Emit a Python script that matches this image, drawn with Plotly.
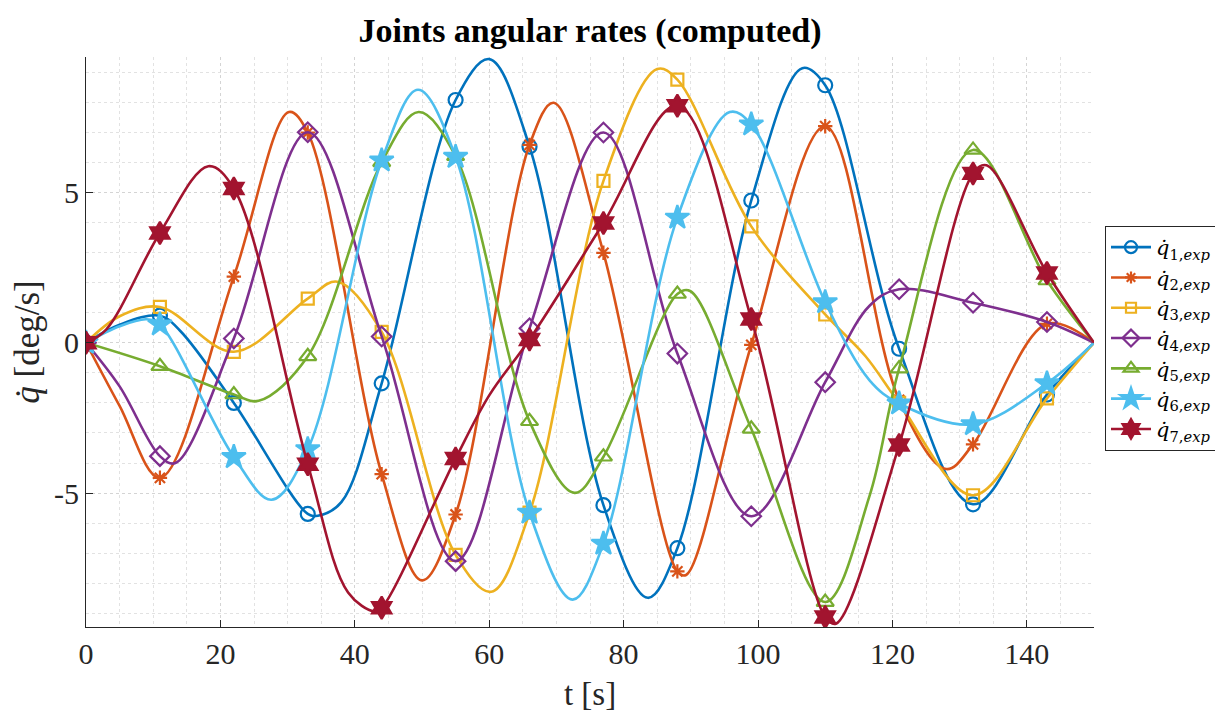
import plotly.graph_objects as go

# ---------------- data ----------------
T_MARK = [0, 11, 22, 33, 44, 55, 66, 77, 88, 99, 110, 121, 132, 143]
T_END = 150
V_END = 0.0

Q1_MARK = [0, 0.9, -2.0, -5.69, -1.35, 8.07, 6.52, -5.4, -6.83, 4.73, 8.56, -0.2, -5.37, -1.72]
Q1_EXTRA_T = [5, 14, 34.5, 38, 60, 83.6, 106.6]
Q1_EXTRA_V = [0.6, 0.4, -5.75, -5.3, 9.43, -8.48, 9.13]

Q2_MARK = [0, -4.49, 2.2, 6.99, -4.37, -5.71, 6.58, 2.99, -7.6, -0.07, 7.2, -1.9, -3.38, 0.63]
Q2_EXTRA_T = [5, 30.2, 50, 69.6, 89.3, 128]
Q2_EXTRA_V = [-2.1, 7.67, -7.9, 7.98, -7.72, -4.2]

Q3_MARK = [0, 1.19, -0.3, 1.47, 0.36, -7.05, -5.65, 5.38, 8.75, 3.87, 0.94, -2.0, -5.07, -1.85]
Q3_EXTRA_T = [5, 37.4, 60.3, 85, 116]
Q3_EXTRA_V = [0.88, 2.03, -8.28, 9.1, -0.45]

Q4_MARK = [0, -3.77, 0.14, 7.0, 0.21, -7.26, 0.48, 6.99, -0.36, -5.77, -1.31, 1.78, 1.33, 0.69]
Q4_EXTRA_T = [5, 13.3, 116.6]
Q4_EXTRA_V = [-1.45, -4.0, 1.23]

Q5_MARK = [0, -0.78, -1.72, -0.45, 6.0, 6.2, -2.61, -3.79, 1.62, -2.86, -8.62, -0.86, 6.41, 2.07]
Q5_EXTRA_T = [25.7, 49.5, 72.7, 89.9, 116.6]
Q5_EXTRA_V = [-1.93, 7.67, -4.99, 1.72, -5.09]

Q6_MARK = [0, 0.61, -3.8, -3.54, 6.06, 6.18, -5.65, -6.68, 4.16, 7.26, 1.35, -2.02, -2.71, -1.35]
Q6_EXTRA_T = [5, 9, 27.6, 49.4, 72.4, 95.8, 116.6]
Q6_EXTRA_V = [0.55, 0.78, -5.22, 8.41, -8.54, 7.67, -1.25]

Q7_MARK = [0, 3.65, 5.13, -4.04, -8.81, -3.85, 0.11, 3.98, 7.88, 0.79, -9.12, -3.4, 5.63, 2.32]
Q7_EXTRA_T = [3, 18.2, 39, 42.9, 60, 111.6, 134]
Q7_EXTRA_V = [0.44, 5.87, -8.3, -8.93, -1.75, -9.34, 5.9]

NAMES = ["1", "2", "3", "4", "5", "6", "7"]
X_TICKS = [0, 20, 40, 60, 80, 100, 120, 140]
Y_TICKS = [-5, 0, 5]

# ---------------- style ----------------
COLORS = ["#0072BD", "#D95319", "#EDB120", "#7E2F8E", "#77AC30", "#4DBEEE", "#A2142F"]
SYMBOLS = ["circle-open", "asterisk-open", "square-open", "diamond-open",
           "triangle-up-open", "star", "hexagram"]
SIZES = [14, 12, 12, 15, 15, 18, 17]

SERIES = [
    (Q1_MARK, Q1_EXTRA_T, Q1_EXTRA_V),
    (Q2_MARK, Q2_EXTRA_T, Q2_EXTRA_V),
    (Q3_MARK, Q3_EXTRA_T, Q3_EXTRA_V),
    (Q4_MARK, Q4_EXTRA_T, Q4_EXTRA_V),
    (Q5_MARK, Q5_EXTRA_T, Q5_EXTRA_V),
    (Q6_MARK, Q6_EXTRA_T, Q6_EXTRA_V),
    (Q7_MARK, Q7_EXTRA_T, Q7_EXTRA_V),
]

FONT = "Liberation Serif"
AX_COLOR = "#262626"

# the page body has an 8px margin: compensate so the plot lands where it should
OFF = 8
W, H = 1223 - OFF, 717 - OFF
ML, MR, MT, MB = 86 - OFF, 129, 57 - OFF, 90

fig = go.Figure()

for i, (mark, et, ev) in enumerate(SERIES):
    pts = sorted(list(zip(T_MARK, mark)) + list(zip(et, ev)) + [(T_END, V_END)])
    xs = [p[0] for p in pts]
    ys = [p[1] for p in pts]
    c = COLORS[i]
    fig.add_trace(go.Scatter(
        x=xs, y=ys, mode="lines",
        line=dict(color=c, width=2.6, shape="spline", smoothing=1.0),
        showlegend=False, hoverinfo="skip"))
    fig.add_trace(go.Scatter(
        x=T_MARK, y=mark, mode="markers",
        marker=dict(symbol=SYMBOLS[i], size=SIZES[i], color=c,
                    line=dict(color=c, width=2.2)),
        showlegend=False))
    fig.add_trace(go.Scatter(
        x=[None], y=[None], mode="lines+markers",
        name="<i>q̇</i><sub>" + NAMES[i] + ",<i>exp</i></sub>",
        line=dict(color=c, width=2.6),
        marker=dict(symbol=SYMBOLS[i], size=SIZES[i] - 2, color=c,
                    line=dict(color=c, width=2.2))))

grid = dict(showgrid=True, gridcolor="#d4d4d4", griddash="dot", gridwidth=1)
plot_w = W - ML - MR
plot_h = H - MT - MB

fig.update_layout(
    width=W, height=H,
    paper_bgcolor="white", plot_bgcolor="white",
    margin=dict(l=ML, r=MR, t=MT, b=MB, autoexpand=False),
    title=dict(text="<b>Joints angular rates (computed)</b>",
               x=(ML + plot_w / 2) / W, xanchor="center",
               y=1 - (30 - OFF) / H, yanchor="middle",
               font=dict(family=FONT, size=34, color="black")),
    font=dict(family=FONT, color=AX_COLOR),
    legend=dict(x=(1105 - 86) / plot_w, xanchor="left", y=(627 - 226) / plot_h,
                yanchor="top",
                bgcolor="white", bordercolor="#262626", borderwidth=1,
                font=dict(family="DejaVu Serif", size=21, color="black"),
                itemwidth=40, tracegroupgap=0),
    xaxis=dict(range=[0, 150], tickvals=X_TICKS, ticks="inside", ticklen=7,
               tickcolor=AX_COLOR, showline=True, linecolor=AX_COLOR, linewidth=1,
               zeroline=False, automargin=False,
               tickfont=dict(family=FONT, size=30, color=AX_COLOR),
               title=dict(text="t [s]", font=dict(family=FONT, size=33, color=AX_COLOR),
                          standoff=12),
               minor=dict(dtick=5, showgrid=True, gridcolor="#e2e2e2", griddash="dot",
                          ticks=""),
               **grid),
    yaxis=dict(range=[-9.45, 9.5], tickvals=Y_TICKS, ticktext=["-5", "0", "5"],
               ticks="inside", ticklen=7,
               tickcolor=AX_COLOR, showline=True, linecolor=AX_COLOR, linewidth=1,
               zeroline=False, automargin=False,
               tickfont=dict(family=FONT, size=30, color=AX_COLOR),
               title=dict(text="<i>q̇</i> [deg/s]",
                          font=dict(family=FONT, size=35, color=AX_COLOR), standoff=14),
               minor=dict(dtick=1, showgrid=True, gridcolor="#e2e2e2", griddash="dot",
                          ticks=""),
               **grid),
)

fig.write_html("out.html")
